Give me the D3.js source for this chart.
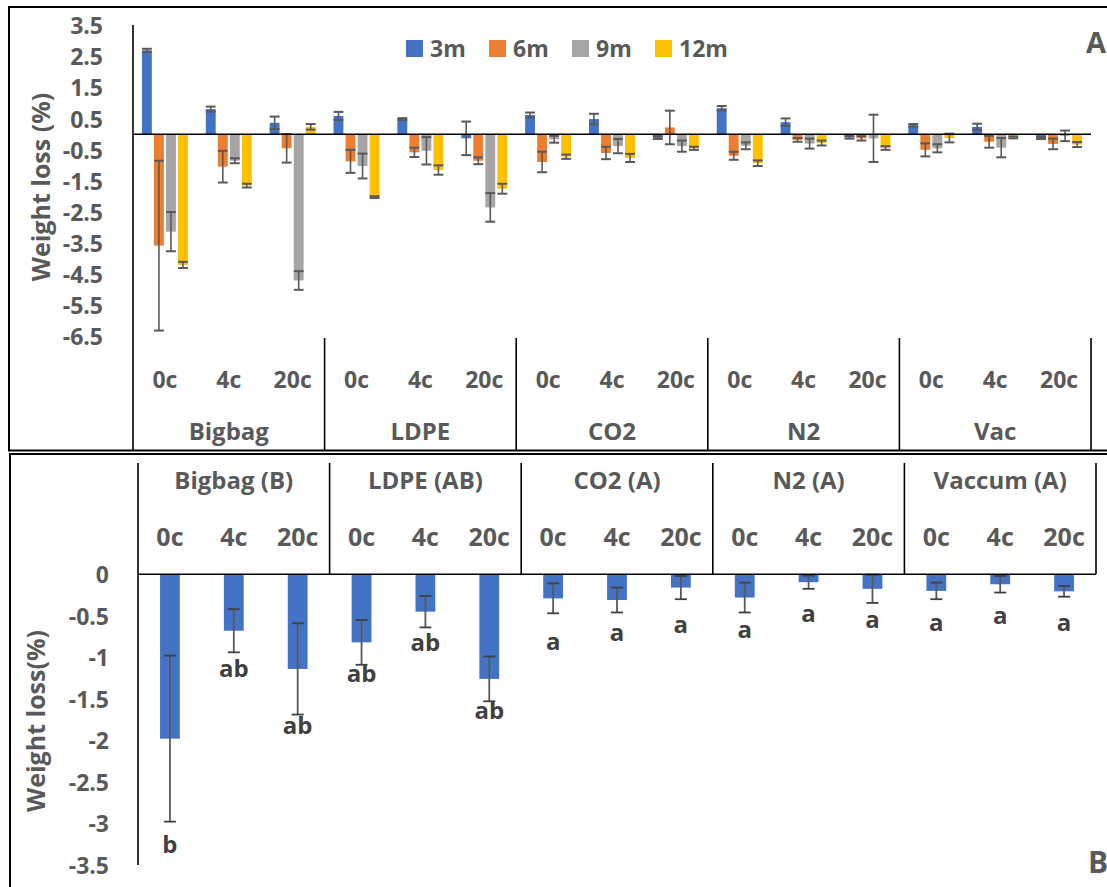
<!DOCTYPE html>
<html><head><meta charset="utf-8">
<script src="https://cdn.jsdelivr.net/npm/d3@7"></script>
<style>
html,body{margin:0;padding:0;background:#fff;}
svg text{font-family:"Open Sans","Noto Sans",sans-serif;font-weight:700;}
</style></head>
<body>
<svg id="c" width="1107" height="887"></svg>
<script>
// ---------- DATA ----------
const groupsTop = ["Bigbag","LDPE","CO2","N2","Vac"];
const groupsBottom = ["Bigbag (B)","LDPE (AB)","CO2 (A)","N2 (A)","Vaccum (A)"];
const temps = ["0c","4c","20c"];
const seriesNames = ["3m","6m","9m","12m"];
const seriesColors = ["#4472C4","#ED7D31","#A5A5A5","#FFC000"];
const v3m  = [2.70, 0.81, 0.37, 0.59, 0.49, -0.13, 0.62, 0.49, -0.11, 0.84, 0.39, -0.10, 0.29, 0.24, -0.12];
const e3m  = [0.05, 0.08, 0.20, 0.13, 0.03, 0.54, 0.08, 0.17, 0.04, 0.07, 0.12, 0.04, 0.04, 0.10, 0.03];
const v6m  = [-3.58, -1.04, -0.45, -0.87, -0.58, -0.85, -0.89, -0.60, 0.22, -0.69, -0.18, -0.13, -0.50, -0.24, -0.31];
const e6m  = [2.73, 0.51, 0.46, 0.37, 0.15, 0.11, 0.33, 0.20, 0.54, 0.13, 0.06, 0.07, 0.21, 0.19, 0.17];
const v9m  = [-3.13, -0.85, -4.70, -1.02, -0.53, -2.35, -0.16, -0.38, -0.38, -0.37, -0.30, -0.13, -0.45, -0.43, -0.05];
const e9m  = [0.63, 0.08, 0.30, 0.40, 0.44, 0.46, 0.11, 0.23, 0.18, 0.11, 0.16, 0.76, 0.13, 0.31, 0.17];
const v12m = [-4.20, -1.65, 0.24, -2.02, -1.15, -1.75, -0.72, -0.76, -0.45, -0.93, -0.28, -0.44, -0.12, -0.10, -0.33];
const e12m = [0.10, 0.06, 0.09, 0.03, 0.15, 0.16, 0.07, 0.13, 0.05, 0.09, 0.08, 0.06, 0.14, 0.03, 0.08];
const ticksTop = [3.5, 2.5, 1.5, 0.5, -0.5, -1.5, -2.5, -3.5, -4.5, -5.5, -6.5];

const meanLoss = [-1.98, -0.68, -1.14, -0.82, -0.45, -1.26, -0.29, -0.31, -0.16, -0.28, -0.095, -0.175, -0.20, -0.12, -0.205];
const errLoss  = [1.00, 0.26, 0.55, 0.27, 0.19, 0.27, 0.18, 0.15, 0.14, 0.18, 0.08, 0.17, 0.10, 0.10, 0.065];
const letters  = ["b","ab","ab","ab","ab","ab","a","a","a","a","a","a","a","a","a"];
const letterAt = [-3.26, -1.15, -1.83, -1.20, -0.83, -1.65, -0.82, -0.71, -0.61, -0.67, -0.48, -0.56, -0.59, -0.51, -0.59];
const ticksBottom = [0, -0.5, -1, -1.5, -2, -2.5, -3, -3.5];

// ---------- DRAW ----------
const svg = d3.select("#c");
const TXT = "#595959";
const idx = d3.range(15);
const hy = s => s.replace(/\u2212/g, "-");

// frames
svg.append("rect").attr("x",9).attr("y",7).attr("width",1130).attr("height",443.5)
  .attr("fill","none").attr("stroke","#000").attr("stroke-width",2);
svg.append("rect").attr("x",10).attr("y",454).attr("width",1130).attr("height",460)
  .attr("fill","none").attr("stroke","#000").attr("stroke-width",2);

// ===== TOP PANEL =====
const xT = d3.scaleBand().domain(idx).range([133,1091]).padding(0);
const bwT = xT.bandwidth();
const xS = d3.scaleBand().domain(seriesNames).range([bwT*0.14, bwT*0.86]).paddingInner(0.18).paddingOuter(0);
const yT = d3.scaleLinear().domain([3.5,-6.5]).range([25.45,336.45]);
const seriesVals = [v3m,v6m,v9m,v12m];
const seriesErr = [e3m,e6m,e9m,e12m];

seriesNames.forEach((s,si)=>{
  const g = svg.append("g");
  g.selectAll("rect").data(idx).join("rect")
    .attr("x", i=>xT(i)+xS(s))
    .attr("width", xS.bandwidth())
    .attr("y", i=>Math.min(yT(seriesVals[si][i]), yT(0)))
    .attr("height", i=>Math.abs(yT(seriesVals[si][i])-yT(0)))
    .attr("fill", seriesColors[si]);
});
// error bars top
seriesNames.forEach((s,si)=>{
  const g = svg.append("g").attr("stroke","#595959").attr("stroke-width",1.6);
  idx.forEach(i=>{
    const cx = xT(i)+xS(s)+xS.bandwidth()/2;
    const v = seriesVals[si][i], e = seriesErr[si][i];
    const y1 = yT(v+e), y2 = yT(v-e);
    const hw = xS.bandwidth()/2;
    g.append("line").attr("x1",cx).attr("x2",cx).attr("y1",y1).attr("y2",y2);
    g.append("line").attr("x1",cx-hw).attr("x2",cx+hw).attr("y1",y1).attr("y2",y1).attr("stroke-width",2);
    g.append("line").attr("x1",cx-hw).attr("x2",cx+hw).attr("y1",y2).attr("y2",y2).attr("stroke-width",2);
  });
});
// zero line
svg.append("line").attr("x1",133).attr("x2",1091).attr("y1",yT(0)).attr("y2",yT(0))
  .attr("stroke","#000").attr("stroke-width",1.6);
// y axis
const axT = svg.append("g").attr("transform","translate(133,0)")
  .call(d3.axisLeft(yT).tickValues(ticksTop).tickSize(0).tickPadding(30).tickFormat(d=>hy(d3.format(".1f")(d))));
axT.select(".domain").remove();
axT.selectAll("text").attr("fill",TXT).style("font-size","23px").attr("dy","0.36em");
svg.append("line").attr("x1",133).attr("x2",133).attr("y1",25).attr("y2",450)
  .attr("stroke","#000").attr("stroke-width",1.6);
// group separators
d3.range(1,6).forEach(k=>{
  const x = 133 + k*bwT*3;
  svg.append("line").attr("x1",x).attr("x2",x).attr("y1",338).attr("y2",450)
    .attr("stroke","#000").attr("stroke-width",1.6);
});
// category labels
svg.append("g").selectAll("text").data(idx).join("text")
  .attr("x", i=>xT(i)+bwT/2).attr("y",388)
  .attr("text-anchor","middle").attr("fill",TXT).style("font-size","23px")
  .text(i=>temps[i%3]);
svg.append("g").selectAll("text").data(groupsTop).join("text")
  .attr("x",(d,k)=>133+bwT*3*k+bwT*1.5).attr("y",440)
  .attr("text-anchor","middle").attr("fill",TXT).style("font-size","24px")
  .text(d=>d);
// y title
svg.append("text").attr("transform","translate(50,187) rotate(-90)")
  .attr("text-anchor","middle").attr("fill",TXT).style("font-size","25px").text("Weight loss (%)");
// legend
const lg = svg.append("g");
seriesNames.forEach((s,si)=>{
  const lx = 406 + si*83;
  lg.append("rect").attr("x",lx).attr("y",40).attr("width",17).attr("height",17).attr("fill",seriesColors[si]);
  lg.append("text").attr("x",lx+24).attr("y",57).attr("fill",TXT).style("font-size","23px").text(s);
});
svg.append("text").attr("x",1086).attr("y",53).attr("fill",TXT).style("font-size","29px").text("A");

// ===== BOTTOM PANEL =====
const xB = d3.scaleBand().domain(idx).range([138,1096]).padding(0);
const bwB = xB.bandwidth();
const yB = d3.scaleLinear().domain([0,-3.5]).range([574.3,864.8]);
const barW = bwB*0.31;

svg.append("g").selectAll("rect").data(idx).join("rect")
  .attr("x", i=>xB(i)+bwB/2-barW/2).attr("width",barW)
  .attr("y", yB(0)).attr("height", i=>yB(meanLoss[i])-yB(0))
  .attr("fill","#4472C4");
// error bars bottom
const eg = svg.append("g");
idx.forEach(i=>{
  const cx = xB(i)+bwB/2;
  const v = meanLoss[i], e = errLoss[i];
  const y1 = yB(v+e), y2 = yB(v-e);
  eg.append("line").attr("x1",cx).attr("x2",cx).attr("y1",y1).attr("y2",y2)
    .attr("stroke","#595959").attr("stroke-width",1.8);
  [y1,y2].forEach(yy=>eg.append("line").attr("x1",cx-6).attr("x2",cx+6).attr("y1",yy).attr("y2",yy)
    .attr("stroke","#404040").attr("stroke-width",1.8));
});
// letters
svg.append("g").selectAll("text").data(idx).join("text")
  .attr("x", i=>xB(i)+bwB/2).attr("y", i=>yB(letterAt[i]))
  .attr("dy","0.32em").attr("text-anchor","middle").attr("fill","#404040").style("font-size","24px")
  .text(i=>letters[i]);
// zero line
svg.append("line").attr("x1",138).attr("x2",1096).attr("y1",yB(0)).attr("y2",yB(0))
  .attr("stroke","#000").attr("stroke-width",1.6);
// y axis
const axB = svg.append("g").attr("transform","translate(138,0)")
  .call(d3.axisLeft(yB).tickValues(ticksBottom).tickSize(0).tickPadding(29).tickFormat(d=>hy(String(d))));
axB.select(".domain").remove();
axB.selectAll("text").attr("fill",TXT).style("font-size","23px").attr("dy","0.36em");
svg.append("line").attr("x1",138).attr("x2",138).attr("y1",463).attr("y2",865)
  .attr("stroke","#000").attr("stroke-width",1.6);
// group separators
d3.range(1,6).forEach(k=>{
  const x = 138 + k*bwB*3;
  svg.append("line").attr("x1",x).attr("x2",x).attr("y1",463).attr("y2",yB(0))
    .attr("stroke","#000").attr("stroke-width",1.6);
});
svg.append("g").selectAll("text").data(idx).join("text")
  .attr("x", i=>xB(i)+bwB/2).attr("y",546)
  .attr("text-anchor","middle").attr("fill",TXT).style("font-size","25px")
  .text(i=>temps[i%3]);
svg.append("g").selectAll("text").data(groupsBottom).join("text")
  .attr("x",(d,k)=>138+bwB*3*k+bwB*1.5).attr("y",489)
  .attr("text-anchor","middle").attr("fill",TXT).style("font-size","24px")
  .text(d=>d);
svg.append("text").attr("transform","translate(45,721) rotate(-90)")
  .attr("text-anchor","middle").attr("fill",TXT).style("font-size","25px").text("Weight loss(%)");
svg.append("text").attr("x",1088).attr("y",873).attr("fill",TXT).style("font-size","30px").text("B");
</script>
</body></html>
